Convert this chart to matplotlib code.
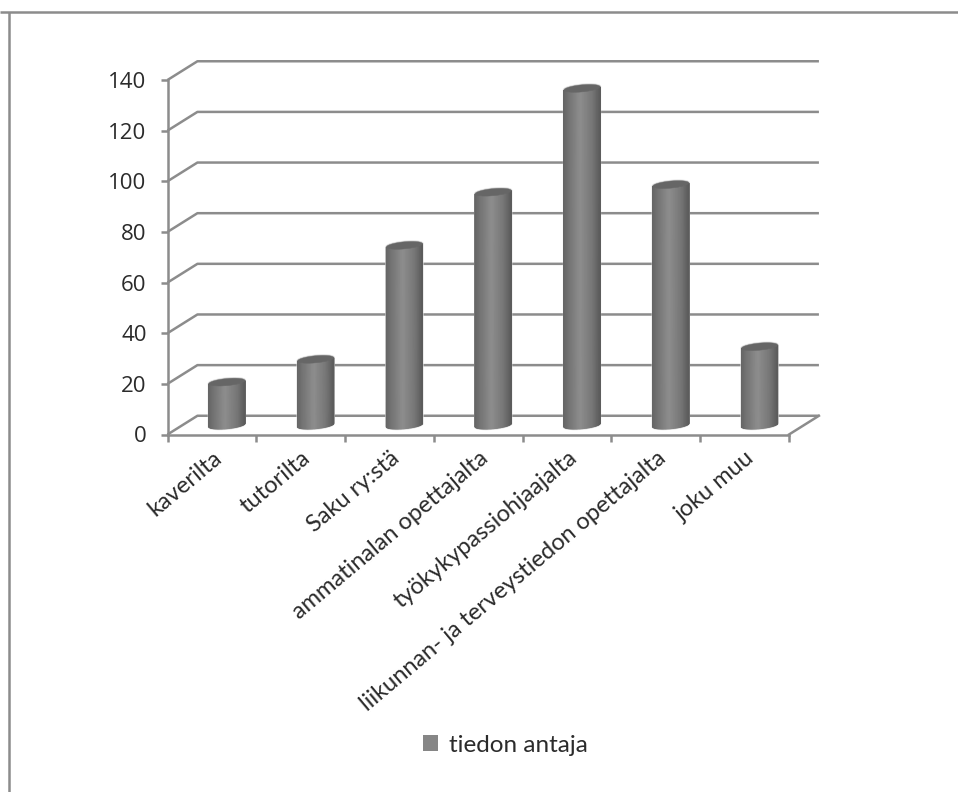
import numpy as np
from matplotlib import pyplot as plt
from matplotlib.colors import LinearSegmentedColormap
from matplotlib.lines import Line2D
from matplotlib.patches import Patch

categories = [
    "kaverilta",
    "tutorilta",
    "Saku ry:stä",
    "ammatinalan opettajalta",
    "työkykypassiohjaajalta",
    "liikunnan- ja terveystiedon opettajalta",
    "joku muu",
]
values = [17, 26, 71, 92, 133, 95, 31]
y_ticks = [0, 20, 40, 60, 80, 100, 120, 140]
series_name = "tiedon antaja"

W, H = 958, 792
LINE = "#8c8c8c"
TEXT = "#2b2b2b"
FONT = "Lato"

# depth of the fake 3D box, in data units
depth_x = 0.337
depth_y = 7.4
# cylinder shape
half_w = 0.203
cap_b = 1.4
cap_tilt = 0.65

shade = LinearSegmentedColormap.from_list(
    "cyl",
    [(0, "#666666"), (0.15, "#757575"), (0.45, "#8e8e8e"), (0.8, "#767676"), (1, "#5c5c5c")],
)

fig = plt.figure(figsize=(W / 100, H / 100), dpi=100, facecolor="white")
ax = fig.add_axes([167.5 / W, (H - 434.5) / H, (789 - 167.5) / W, (434.5 - 80) / H])
ax.set_xlim(0, len(categories))
ax.set_ylim(0, 140)
ax.patch.set_alpha(0)

for s in ["top", "right"]:
    ax.spines[s].set_visible(False)
for s in ["left", "bottom"]:
    ax.spines[s].set_color(LINE)
    ax.spines[s].set_linewidth(1.8)

# walls and floor
n = len(categories)
for v in y_ticks:
    ax.plot([0, depth_x, n + depth_x], [v, v + depth_y, v + depth_y],
            color=LINE, lw=1.8, clip_on=False, zorder=1, solid_capstyle="butt")
ax.plot([n, n + depth_x], [0, depth_y], color=LINE, lw=1.8, clip_on=False, zorder=1)

# cylinders
t = np.linspace(0, np.pi, 41)
u = -np.cos(t)
for i, v in enumerate(values):
    cx = i + 0.5 + depth_x / 2
    base = depth_y / 2
    xs = cx + half_w * u
    lower = -cap_b * np.sin(t) + cap_tilt * u
    upper = cap_b * np.sin(t) + cap_tilt * u
    X = np.vstack([xs, xs])
    Y = np.vstack([base + lower, base + v + lower])
    C = np.vstack([(u + 1) / 2, (u + 1) / 2])
    # faint halo round the body
    ox = np.r_[xs, xs[::-1]]
    oy = np.r_[base + lower, (base + v + upper)[::-1]]
    ax.fill(ox, oy, facecolor="none", edgecolor="#dcdcdc", lw=1.6, zorder=2, clip_on=False)
    ax.pcolormesh(X, Y, C, cmap=shade, vmin=0, vmax=1, shading="gouraud", zorder=3, clip_on=False)
    cap_x = np.r_[xs, xs[::-1]]
    cap_y = np.r_[base + v + lower, (base + v + upper)[::-1]]
    ax.fill(cap_x, cap_y, color="#666666", lw=0.3, zorder=4, clip_on=False)

ax.set_yticks(y_ticks)
ax.set_xticks(range(n + 1))
ax.set_xticklabels([])
ax.tick_params(axis="both", length=5, width=1.8, color=LINE, direction="out")
ax.tick_params(axis="y", labelsize=16, labelcolor=TEXT, pad=10)
for lab in ax.get_yticklabels():
    lab.set_fontfamily("Open Sans")

# slanted category names, right end under each slot
for i, name in enumerate(categories):
    ax.annotate(name, xy=(i + 0.5, 0), xytext=(5, -15), textcoords="offset points",
                rotation=40, rotation_mode="anchor", ha="right", va="center",
                fontsize=17, color=TEXT, family=FONT, annotation_clip=False)

handle = Patch(facecolor="#868686", edgecolor="none")
fig.legend([handle], [series_name], loc="center", bbox_to_anchor=(505 / W, (H - 745) / H),
           frameon=False, prop={"family": FONT, "size": 17.5}, labelcolor=TEXT,
           handlelength=0.62, handleheight=0.62, handletextpad=0.45)

# outer border: only top and left show
fig.add_artist(Line2D([0, 1], [(H - 12) / H] * 2, color=LINE, lw=1.8, solid_capstyle="butt"))
fig.add_artist(Line2D([8.5 / W] * 2, [0, (H - 12) / H], color=LINE, lw=1.8, solid_capstyle="butt"))

plt.savefig("out.png", dpi=100)
